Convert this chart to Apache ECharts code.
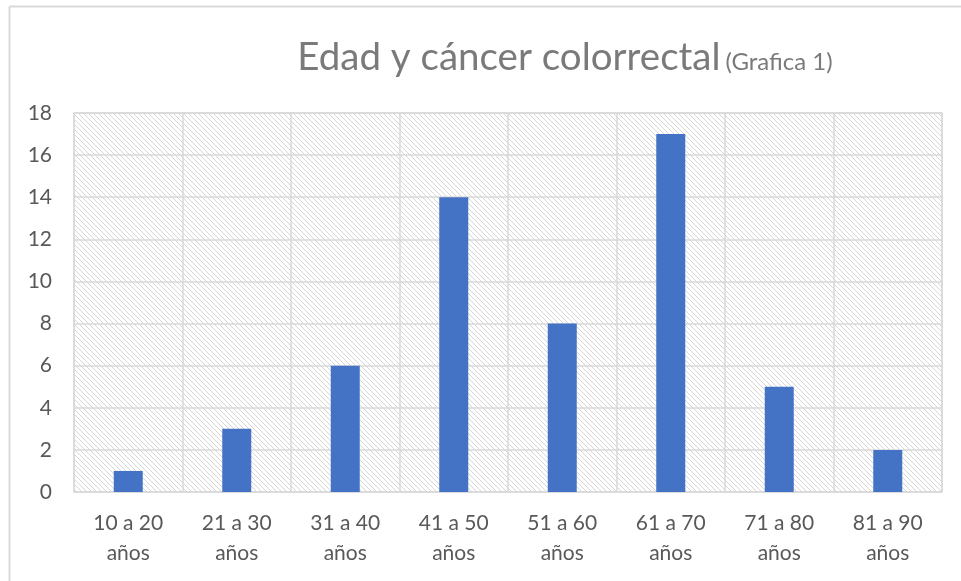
<!DOCTYPE html>
<html>
<head>
<meta charset="utf-8">
<script src="https://cdn.jsdelivr.net/npm/echarts@6/dist/echarts.min.js"></script>
<style>
html,body{margin:0;padding:0;background:#fff;}
#c{width:961px;height:581px;}
</style>
</head>
<body>
<div id="c"></div>
<script>
var categories = ['10 a 20\naños','21 a 30\naños','31 a 40\naños','41 a 50\naños','51 a 60\naños','61 a 70\naños','71 a 80\naños','81 a 90\naños'];
var values = [1, 3, 6, 14, 8, 17, 5, 2];
var yTicks = {min: 0, max: 18, interval: 2};

var FONT = 'Lato';

// hatch pattern
var tile = document.createElement('canvas');
tile.width = 5; tile.height = 5;
var g = tile.getContext('2d');
g.fillStyle = '#ffffff';
g.fillRect(0,0,5,5);
g.strokeStyle = '#d6d6d6';
g.lineWidth = 1;
g.beginPath();
g.moveTo(-1,-1); g.lineTo(6,6);
g.moveTo(-1,4); g.lineTo(1,6);
g.moveTo(4,-1); g.lineTo(6,1);
g.stroke();

var chart = echarts.init(document.getElementById('c'), null, {renderer:'canvas'});
chart.setOption({
  animation: false,
  backgroundColor: '#ffffff',
  title: {
    text: '{a|Edad y cáncer colorrectal} {b|(Grafica 1)}',
    left: 560, top: 33, textAlign: 'center',
    textStyle: {
      fontWeight: 'normal',
      rich: {
        a: {fontFamily: FONT, fontSize: 38.5, fontWeight: 'normal', color: '#7a7a7a'},
        b: {fontFamily: FONT, fontSize: 24, fontWeight: 'normal', color: '#7a7a7a', padding:[10,0,0,0]}
      }
    }
  },
  graphic: [
    {type:'line', shape:{x1:9.5,y1:6.5,x2:961,y2:6.5}, style:{stroke:'#d9d9d9', lineWidth:2}},
    {type:'line', shape:{x1:9.5,y1:6.5,x2:9.5,y2:581}, style:{stroke:'#d9d9d9', lineWidth:2}}
  ],
  grid: {
    left: 74, right: 19, top: 113, bottom: 89,
    show: true,
    backgroundColor: {image: tile, repeat: 'repeat'},
    borderColor: '#d9d9d9', borderWidth: 1.5
  },
  xAxis: {
    type: 'category',
    data: categories,
    axisLine: {show: false},
    axisTick: {show: false},
    splitLine: {show: true, lineStyle: {color: '#d9d9d9', width: 1.5}},
    axisLabel: {fontFamily: FONT, fontSize: 21, color: '#595959', lineHeight: 30, margin: 16, interval: 0}
  },
  yAxis: {
    type: 'value',
    min: yTicks.min, max: yTicks.max, interval: yTicks.interval,
    axisLine: {show: false},
    axisTick: {show: false},
    splitLine: {lineStyle: {color: '#d9d9d9', width: 1.5}},
    axisLabel: {fontFamily: FONT, fontSize: 21, color: '#595959', margin: 22}
  },
  series: [{
    type: 'bar',
    data: values,
    barWidth: 29,
    itemStyle: {color: '#4472C4'}
  }]
});
</script>
</body>
</html>
